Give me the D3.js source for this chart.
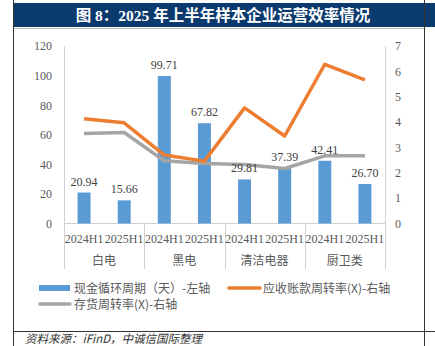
<!DOCTYPE html>
<html><head><meta charset="utf-8">
<script src="https://cdn.jsdelivr.net/npm/d3@7"></script>
<style>
html,body{margin:0;padding:0;background:#fff;}
svg{display:block;}
</style></head>
<body>
<svg id="c" width="435" height="346"></svg>
<script>
const groups = ["白电", "黑电", "清洁电器", "厨卫类"];
const periods = ["2024H1", "2025H1"];
const cashCycle = [20.94, 15.66, 99.71, 67.82, 29.81, 37.39, 42.41, 26.70];
const receivableTurnover = [4.13, 3.97, 2.70, 2.46, 4.56, 3.45, 6.28, 5.66];
const inventoryTurnover = [3.55, 3.59, 2.47, 2.37, 2.33, 2.17, 2.67, 2.67];
const leftTicks = [0, 20, 40, 60, 80, 100, 120];
const rightTicks = [0, 1, 2, 3, 4, 5, 6, 7];
const title = "图 8：2025 年上半年样本企业运营效率情况";
const legendLabels = ["现金循环周期（天）-左轴", "应收账款周转率(X)-右轴", "存货周转率(X)-右轴"];
const source = "资料来源：iFinD，中诚信国际整理";

const svg = d3.select("#c");
const serif = "'Liberation Serif','DejaVu Serif',serif";
const cjk = "'Noto Sans CJK SC','Noto Sans',sans-serif";
const txt = "#595959";
const axisCol = "#d0d0d0";

// frame
svg.append("rect").attr("x", 13).attr("y", 3).attr("width", 422).attr("height", 24).attr("fill", "#0b3a6e");
svg.append("line").attr("x1", 13).attr("x2", 424).attr("y1", 28.5).attr("y2", 28.5).attr("stroke", "#bbb").attr("stroke-width", 1);
svg.append("line").attr("x1", 13.5).attr("x2", 13.5).attr("y1", 0).attr("y2", 346).attr("stroke", "#333");
svg.append("line").attr("x1", 424.5).attr("x2", 424.5).attr("y1", 0).attr("y2", 346).attr("stroke", "#333");
svg.append("line").attr("x1", 13).attr("x2", 435).attr("y1", 331.5).attr("y2", 331.5).attr("stroke", "#333");
svg.append("text").attr("x", 223).attr("y", 21).attr("text-anchor", "middle")
  .attr("fill", "#fff").attr("font-family", serif + ",'Noto Sans CJK SC'").attr("font-weight", "bold").attr("font-size", 15.5)
  .text(title);
svg.append("text").attr("x", 25).attr("y", 343).attr("fill", "#333").attr("font-style", "italic")
  .attr("font-family", cjk).attr("font-size", 11.5).text(source);

// scales
const keys = d3.range(cashCycle.length);
const x = d3.scaleBand().domain(keys).range([64, 385]).paddingInner(0).paddingOuter(0);
const yL = d3.scaleLinear().domain([0, 120]).range([223.5, 46]);
const yR = d3.scaleLinear().domain([0, 7]).range([223.5, 46]);

// axes
const gL = svg.append("g").attr("transform", "translate(64,0)")
  .call(d3.axisLeft(yL).tickValues(leftTicks).tickSize(0).tickPadding(12).tickFormat(d3.format("d")));
gL.select(".domain").remove();
gL.selectAll("text").attr("font-family", serif).attr("font-size", 12).attr("fill", txt);
const gR = svg.append("g").attr("transform", "translate(385,0)")
  .call(d3.axisRight(yR).tickValues(rightTicks).tickSize(0).tickPadding(10).tickFormat(d3.format("d")));
gR.select(".domain").remove();
gR.selectAll("text").attr("font-family", serif).attr("font-size", 12).attr("fill", txt);

svg.append("line").attr("x1", 64.5).attr("x2", 64.5).attr("y1", 46).attr("y2", 269).attr("stroke", axisCol);
svg.append("line").attr("x1", 385.5).attr("x2", 385.5).attr("y1", 46).attr("y2", 269).attr("stroke", axisCol);
svg.append("line").attr("x1", 64).attr("x2", 385).attr("y1", 223.5).attr("y2", 223.5).attr("stroke", axisCol);
groups.forEach((g, i) => {
  if (i > 0) {
    const xx = Math.round(x(i * 2)) + 0.5;
    svg.append("line").attr("x1", xx).attr("x2", xx).attr("y1", 223).attr("y2", 269).attr("stroke", axisCol);
  }
  svg.append("text").attr("x", x(i * 2) + x.bandwidth()).attr("y", 265).attr("text-anchor", "middle")
    .attr("font-family", cjk).attr("font-size", 12).attr("fill", txt).text(g);
});
keys.forEach(k => {
  svg.append("text").attr("x", x(k) + x.bandwidth() / 2).attr("y", 243).attr("text-anchor", "middle")
    .attr("font-family", serif).attr("font-size", 12).attr("fill", txt).text(periods[k % 2]);
});

// bars
const bw = 13;
svg.selectAll("rect.bar").data(cashCycle).enter().append("rect").attr("class", "bar")
  .attr("x", (d, i) => x(i) + x.bandwidth() / 2 - bw / 2)
  .attr("y", d => yL(d)).attr("width", bw).attr("height", d => yL(0) - yL(d))
  .attr("fill", "#5b9bd5");

// lines
const line = d3.line().x((d, i) => x(i) + x.bandwidth() / 2).y(d => yR(d));
svg.append("path").datum(inventoryTurnover).attr("d", line).attr("fill", "none")
  .attr("stroke", "#a5a5a5").attr("stroke-width", 3.5).attr("stroke-linejoin", "round");
svg.append("path").datum(receivableTurnover).attr("d", line).attr("fill", "none")
  .attr("stroke", "#ed7d31").attr("stroke-width", 3.5).attr("stroke-linejoin", "round");

// data labels
svg.selectAll("text.lbl").data(cashCycle).enter().append("text").attr("class", "lbl")
  .attr("x", (d, i) => x(i) + x.bandwidth() / 2).attr("y", d => yL(d) - 7)
  .attr("text-anchor", "middle").attr("font-family", serif).attr("font-size", 12).attr("fill", "#404040")
  .text(d => d.toFixed(2));

// legend
const lg = svg.append("g");
lg.append("rect").attr("x", 39).attr("y", 285).attr("width", 31).attr("height", 6).attr("fill", "#5b9bd5");
lg.append("text").attr("x", 74).attr("y", 292.5).attr("font-family", cjk).attr("font-size", 12).attr("fill", txt).text(legendLabels[0]);
lg.append("line").attr("x1", 229).attr("x2", 260).attr("y1", 288).attr("y2", 288).attr("stroke", "#ed7d31").attr("stroke-width", 3.5).attr("stroke-linecap", "round");
lg.append("text").attr("x", 263).attr("y", 292.5).attr("font-family", cjk).attr("font-size", 12).attr("fill", txt).text(legendLabels[1]);
lg.append("line").attr("x1", 40).attr("x2", 70).attr("y1", 304).attr("y2", 304).attr("stroke", "#a5a5a5").attr("stroke-width", 3.5).attr("stroke-linecap", "round");
lg.append("text").attr("x", 74).attr("y", 308.5).attr("font-family", cjk).attr("font-size", 12).attr("fill", txt).text(legendLabels[2]);
</script>
</body></html>
